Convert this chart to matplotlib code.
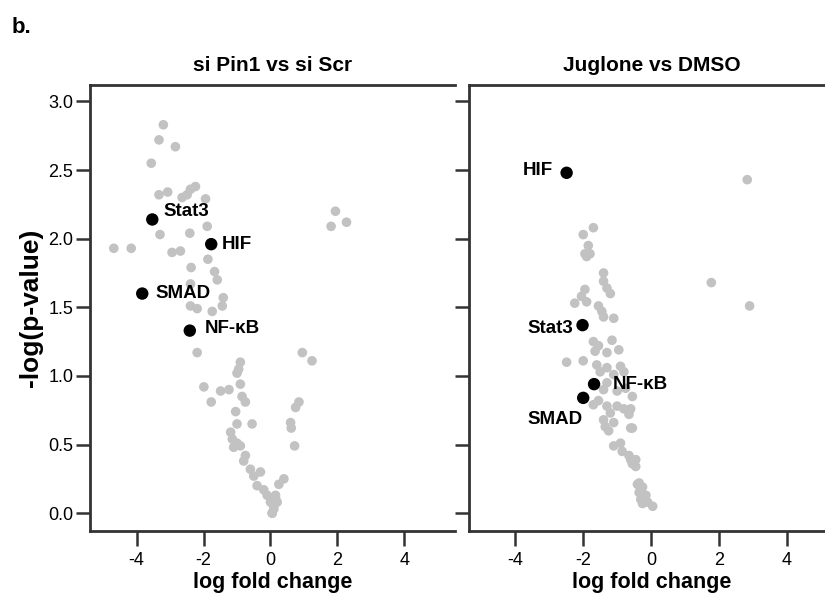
import numpy as np
import matplotlib.pyplot as plt

plt.rcParams['font.family'] = ['Liberation Sans', 'DejaVu Sans']
plt.rcParams['axes.unicode_minus'] = False

# si Pin1 vs si Scr : grey points
left_x = [-3.2, -3.33, -2.84, -3.56, -3.33, -3.07, -2.39, -2.24, -2.49, -2.64, -1.94, -1.89,
          -3.30, -2.41, -4.68, -4.16, -2.94, -2.69, -1.87, -2.37, -1.67, -1.59, -2.39, -1.41,
          -2.39, -2.19, -1.74, -1.44,
          -2.19, -0.90, -0.95, -1.0, -1.99, -1.49, -1.24, -0.90, -0.85, -0.75, -1.77, -1.04,
          -1.0, -0.55, -1.19, -1.14, -1.0, -0.9, -1.1, -0.75, -0.80, -0.6, -0.5, -0.3, -0.4,
          -0.2, -0.1, 0.0, 0.1, 0.05, 0.15, 0.2,
          1.94, 1.81, 2.27, 0.95, 1.24, 0.85, 0.75, 0.6, 0.62, 0.72, 0.4, 0.25, 0.15, 0.1, 0.05]
left_y = [2.83, 2.72, 2.67, 2.55, 2.32, 2.34, 2.36, 2.38, 2.32, 2.30, 2.29, 2.09,
          2.03, 2.04, 1.93, 1.93, 1.90, 1.91, 1.85, 1.79, 1.76, 1.70, 1.67, 1.57,
          1.51, 1.49, 1.47, 1.51,
          1.17, 1.10, 1.05, 1.02, 0.92, 0.89, 0.90, 0.94, 0.85, 0.81, 0.81, 0.74,
          0.65, 0.65, 0.59, 0.54, 0.51, 0.49, 0.48, 0.42, 0.38, 0.32, 0.27, 0.30, 0.20,
          0.17, 0.13, 0.08, 0.03, 0.0, 0.13, 0.08,
          2.20, 2.09, 2.12, 1.17, 1.11, 0.81, 0.77, 0.66, 0.62, 0.49, 0.25, 0.21, 0.11, 0.05, 0.0]

# Juglone vs DMSO : grey points
right_x = [-1.70, -2.0, -1.85, -1.80, -1.95, -1.90, -1.40, -1.40, -1.30, -1.20, -1.95, -2.05,
           -2.25, -1.55, -1.90, -1.45, -1.40, -1.10, -1.70, -1.55, -1.15, -0.95, -1.30, -1.65,
           -2.49, -2.0, -1.6, -1.5, -1.3, -1.1, -0.9, -0.8, -1.30, -1.40, -1.0, -0.75, -0.55,
           -1.7, -1.55, -1.3, -1.2, -1.0, -0.8, -0.65, -1.4, -1.35, -1.25, -1.1, -0.6,
           -1.1, -0.9, -0.85, -0.65, -0.6, -0.45, -0.4, -0.35, -0.3, -0.25,
           2.84, 1.78, 2.91, -0.6, -0.55, -0.45, -0.55, -0.35, -0.25, -0.15, -0.1, 0.05]
right_y = [2.08, 2.03, 1.95, 1.89, 1.89, 1.87, 1.75, 1.69, 1.64, 1.60, 1.63, 1.58,
           1.53, 1.51, 1.54, 1.47, 1.43, 1.42, 1.25, 1.22, 1.26, 1.19, 1.17, 1.18,
           1.10, 1.11, 1.08, 1.03, 1.06, 1.01, 1.07, 1.03, 0.95, 0.90, 0.89, 0.91, 0.85,
           0.79, 0.82, 0.78, 0.73, 0.78, 0.76, 0.72, 0.68, 0.63, 0.60, 0.66, 0.62,
           0.49, 0.51, 0.45, 0.42, 0.39, 0.34, 0.21, 0.15, 0.10, 0.07,
           2.43, 1.68, 1.51, 0.76, 0.62, 0.39, 0.36, 0.22, 0.19, 0.13, 0.08, 0.05]

# highlighted genes
genes = ['Stat3', 'HIF', 'SMAD', 'NF-\u03baB']
left_gx = [-3.53, -1.77, -3.83, -2.41]
left_gy = [2.14, 1.96, 1.60, 1.33]
right_gx = [-2.02, -2.49, -2.0, -1.68]
right_gy = [1.37, 2.48, 0.84, 0.94]

titles = ['si Pin1 vs si Scr', 'Juglone vs DMSO']
xticks = [-4, -2, 0, 2, 4]
yticks = [0.0, 0.5, 1.0, 1.5, 2.0, 2.5, 3.0]

# label offsets in pixels (dx, dy, ha)
left_off = {'Stat3': (11, 8, 'left'), 'HIF': (11, 0, 'left'),
            'SMAD': (13, 0, 'left'), 'NF-\u03baB': (15, 2, 'left')}
right_off = {'Stat3': (-9, -3, 'right'), 'HIF': (-14, 2, 'right'),
             'SMAD': (-1, -22, 'right'), 'NF-\u03baB': (19, 0, 'left')}

fig = plt.figure(figsize=(8.25, 6.04), dpi=100)
ax1 = fig.add_axes([0.1091, 0.1209, 0.4424, 0.7384])
ax2 = fig.add_axes([0.5685, 0.1209, 0.4424, 0.7384])

panels = [(ax1, left_x, left_y, left_gx, left_gy, left_off),
          (ax2, right_x, right_y, right_gx, right_gy, right_off)]

for i, (ax, gx, gy, bx, by, off) in enumerate(panels):
    ax.scatter(gx, gy, s=48, c='#c2c2c2', edgecolors='none', zorder=2)
    ax.scatter(bx, by, s=80, c='black', edgecolors='none', zorder=3)
    for name, x, y in zip(genes, bx, by):
        dx, dy, ha = off[name]
        ax.annotate(name, (x, y), xytext=(dx, dy), textcoords='offset pixels',
                    ha=ha, va='center', fontsize=13.5, fontweight='bold')
    ax.set_xlim(-5.39, 5.51)
    ax.set_ylim(-0.13, 3.12)
    ax.set_xticks(xticks)
    ax.set_yticks(yticks)
    ax.spines['right'].set_visible(False)
    for s in ['top', 'left', 'bottom']:
        ax.spines[s].set_linewidth(2.0)
        ax.spines[s].set_color('#333333')
    ax.tick_params(axis='x', length=11, width=1.8, color='#333333', labelsize=13, pad=4)
    ax.tick_params(axis='y', length=10, width=1.8, color='#333333', labelsize=13, pad=2)
    ax.set_xlabel('log fold change', fontsize=15.5, fontweight='bold', labelpad=2)
    ax.set_title(titles[i], fontsize=15, fontweight='bold', pad=10)

ax1.set_yticklabels(['%.1f' % v for v in yticks])
ax1.set_ylabel('-log(p-value)', fontsize=19, fontweight='bold', labelpad=4)
ax2.set_xlim(-5.37, 5.4)
ax2.tick_params(axis='y', labelleft=False)

fig.text(0.014, 0.955, 'b.', fontsize=16, fontweight='bold', va='center')

fig.savefig('out.png', dpi=100)
